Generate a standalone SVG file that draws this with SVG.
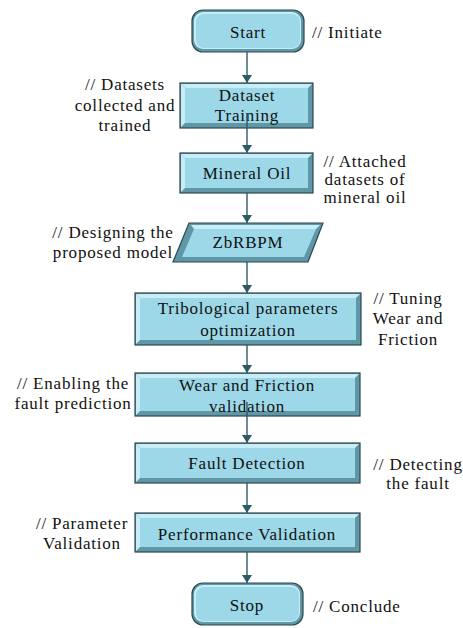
<svg xmlns="http://www.w3.org/2000/svg" width="463" height="628" viewBox="0 0 463 628">
<style>
.bev{fill:#5f97a6;stroke:#2c4850;stroke-width:1.2}
.face{fill:#9dd8e8}
.hi{fill:#c8edf6}
.t{font-size:17px;fill:#111;letter-spacing:0.8px}
.c{text-anchor:middle}
.conn line{stroke:#2e5a66;stroke-width:1.4}
</style>
<defs>
<marker id="ah" markerWidth="8" markerHeight="10" refX="8" refY="5" orient="auto" markerUnits="userSpaceOnUse">
<path d="M0,0 L8,5 L0,10 z" fill="#2e5a66"/>
</marker>
</defs>
<rect width="463" height="628" fill="#ffffff"/>
<g font-family="Liberation Serif, DejaVu Serif, serif">
<g id="start">
<rect class="bev" x="192" y="10" width="112" height="42" rx="11"/>
<rect class="hi" x="194" y="12" width="107" height="37" rx="9"/>
<rect class="face" x="196" y="14" width="104" height="34" rx="8"/>
<text class="t c" x="248" y="38">Start</text>
</g>

<g id="dataset">
<rect class="bev" x="180" y="83" width="133" height="45"/>
<polygon class="hi" points="181,84 312,84 308,88 185,88"/>
<polygon class="hi" points="181,84 185,88 185,123 181,127"/>
<rect class="face" x="185" y="88" width="123" height="35"/>
<text class="t c" x="247" y="101">Dataset</text>
<text class="t c" x="247" y="121">Training</text>
</g>

<g id="mineral">
<rect class="bev" x="180" y="153" width="133" height="40"/>
<polygon class="hi" points="181,154 312,154 308,158 185,158"/>
<polygon class="hi" points="181,154 185,158 185,188 181,192"/>
<rect class="face" x="185" y="158" width="123" height="30"/>
<text class="t c" x="247" y="179">Mineral Oil</text>
</g>

<g id="zbrbpm">
<polygon class="bev" points="189,223 323,223 308,262 173,262"/>
<polygon class="hi" points="191,225 320,225 316,229 194,229"/>
<polygon class="face" points="194,229 316,229 304,257 182,257"/>
<text class="t c" x="248" y="248">ZbRBPM</text>
</g>

<g id="tribo">
<rect class="bev" x="135" y="293" width="226" height="52"/>
<polygon class="hi" points="136,294 360,294 356,298 140,298"/>
<polygon class="hi" points="136,294 140,298 140,340 136,344"/>
<rect class="face" x="140" y="298" width="216" height="42"/>
<text class="t c" x="248" y="314">Tribological parameters</text>
<text class="t c" x="248" y="336">optimization</text>
</g>

<g id="wear">
<rect class="bev" x="135" y="373" width="225" height="43"/>
<polygon class="hi" points="136,374 359,374 355,378 140,378"/>
<polygon class="hi" points="136,374 140,378 140,411 136,415"/>
<rect class="face" x="140" y="378" width="215" height="33"/>
<text class="t c" x="247" y="391">Wear and Friction</text>
<text class="t c" x="247" y="412">validation</text>
</g>

<g id="fault">
<rect class="bev" x="135" y="443" width="225" height="40"/>
<polygon class="hi" points="136,444 359,444 355,448 140,448"/>
<polygon class="hi" points="136,444 140,448 140,478 136,482"/>
<rect class="face" x="140" y="448" width="215" height="30"/>
<text class="t c" x="247" y="469">Fault Detection</text>
</g>

<g id="perf">
<rect class="bev" x="135" y="513" width="225" height="39"/>
<polygon class="hi" points="136,514 359,514 355,518 140,518"/>
<polygon class="hi" points="136,514 140,518 140,547 136,551"/>
<rect class="face" x="140" y="518" width="215" height="29"/>
<text class="t c" x="247" y="540">Performance Validation</text>
</g>

<g id="stop">
<rect class="bev" x="192" y="583" width="111" height="42" rx="11"/>
<rect class="hi" x="194" y="585" width="106" height="37" rx="9"/>
<rect class="face" x="196" y="587" width="103" height="34" rx="8"/>
<text class="t c" x="247" y="611">Stop</text>
</g>

<g class="conn">
<line x1="247" y1="52" x2="247" y2="83" marker-end="url(#ah)"/>
<line x1="247" y1="113" x2="247" y2="153" marker-end="url(#ah)"/>
<line x1="247" y1="193" x2="247" y2="223" marker-end="url(#ah)"/>
<line x1="247" y1="262" x2="247" y2="293" marker-end="url(#ah)"/>
<line x1="247" y1="345" x2="247" y2="373" marker-end="url(#ah)"/>
<line x1="247" y1="402" x2="247" y2="443" marker-end="url(#ah)"/>
<line x1="247" y1="483" x2="247" y2="513" marker-end="url(#ah)"/>
<line x1="247" y1="552" x2="247" y2="583" marker-end="url(#ah)"/>
</g>

<g id="labels">
<text class="t" x="312" y="38">// Initiate</text>
<text class="t c" x="125" y="90">// Datasets</text>
<text class="t c" x="125" y="111">collected and</text>
<text class="t c" x="125" y="131">trained</text>
<text class="t c" x="365" y="167">// Attached</text>
<text class="t c" x="365" y="185">datasets of</text>
<text class="t c" x="365" y="203">mineral oil</text>
<text class="t c" x="113" y="238">// Designing the</text>
<text class="t c" x="113" y="258">proposed model</text>
<text class="t c" x="408" y="304">// Tuning</text>
<text class="t c" x="408" y="324">Wear and</text>
<text class="t c" x="408" y="345">Friction</text>
<text class="t c" x="73" y="389">// Enabling the</text>
<text class="t c" x="73" y="409">fault prediction</text>
<text class="t c" x="418" y="470">// Detecting</text>
<text class="t c" x="418" y="489">the fault</text>
<text class="t c" x="82" y="529">// Parameter</text>
<text class="t c" x="82" y="549">Validation</text>
<text class="t" x="313" y="612">// Conclude</text>
</g>
</g>
</svg>
